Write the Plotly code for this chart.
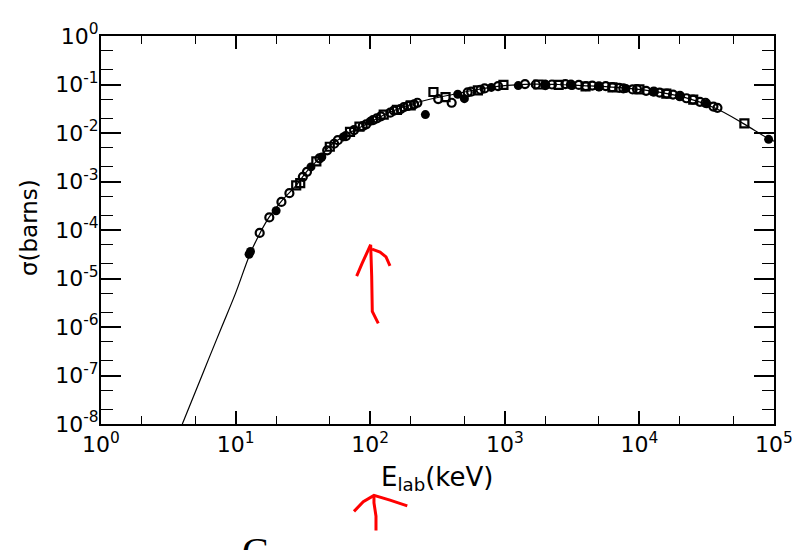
import plotly.graph_objects as go

# ---- data ----
curve_E = [4.02, 5.01, 6.31, 7.94, 10.0, 12.8, 15.2, 17.8, 22.0, 28.4, 33.7, 39.8, 50.1,
           70.8, 100, 132, 234, 417, 631, 1000, 1585, 2512, 3802, 6761, 12020, 21380,
           37150, 58880, 89130, 100000]
curve_sigma = [1.0e-8, 4.5e-8, 2.2e-7, 1.05e-6, 5.0e-6, 3.2e-5, 8.7e-5, 1.86e-4, 4.0e-4,
               8.5e-4, 1.6e-3, 2.6e-3, 5.4e-3, 1.02e-2, 1.66e-2, 2.5e-2, 4.4e-2, 6.3e-2,
               7.9e-2, 9.5e-2, 1.02e-1, 1.0e-1, 9.5e-2, 8.7e-2, 7.4e-2, 5.5e-2, 3.2e-2,
               1.58e-2, 7.9e-3, 6.8e-3]

circ_E = [15.1, 17.8, 21.9, 25.1, 33.9, 47.9, 57.5, 75.9, 93.3, 112, 141, 178, 224, 403,
          562, 708, 891, 1413, 2239, 2818, 3548, 4467, 5623, 7079, 8913, 11220, 14130,
          17780, 22390, 28180, 35480,
          31.6, 42.0, 54.0, 66.0, 88.0, 105, 120, 150, 168, 190, 212, 320, 530, 660,
          1700, 2000, 3100, 4000, 5000, 6300, 7600, 9600, 12800, 16000, 20000, 25000,
          31000, 38000]
circ_sigma = [8.7e-5, 1.82e-4, 3.8e-4, 5.75e-4, 1.58e-3, 4.4e-3, 7.1e-3, 1.15e-2, 1.51e-2,
              2.0e-2, 2.63e-2, 3.4e-2, 4.2e-2, 4.2e-2, 7.1e-2, 8.3e-2, 9.3e-2, 0.102, 0.100,
              0.102, 0.098, 0.095, 0.093, 0.085, 0.079, 0.074, 0.068, 0.062, 0.052, 0.044,
              0.035,
              1.25e-3, 3.0e-3, 6.0e-3, 8.6e-3, 1.38e-2, 1.85e-2, 2.2e-2, 2.9e-2, 3.1e-2,
              3.6e-2, 3.9e-2, 5.0e-2, 6.9e-2, 7.8e-2, 0.100, 0.097, 0.099, 0.093, 0.092,
              0.088, 0.083, 0.080, 0.071, 0.065, 0.058, 0.049, 0.042, 0.033]

sq_E = [28.2, 30.2, 39.8, 50.1, 70.8, 83.2, 126, 158, 200, 295, 363, 631, 977, 1778, 2512,
        3981, 6310, 10000, 15850, 25120, 60260]
sq_sigma = [8.3e-4, 9.3e-4, 2.6e-3, 5.2e-3, 1.05e-2, 1.35e-2, 2.4e-2, 3.0e-2, 3.7e-2,
            7.0e-2, 5.5e-2, 7.6e-2, 9.8e-2, 0.100, 0.098, 0.091, 0.087, 0.079, 0.065,
            0.049, 0.0158]

dot_E = [12.6, 12.9, 20.0, 36.3, 43.7, 63.1, 100, 257, 447, 501, 794, 1259, 1995, 3162,
         5012, 7943, 12590, 19950, 31620, 91200]
dot_sigma = [3.16e-5, 3.6e-5, 2.5e-4, 2.0e-3, 3.2e-3, 8.3e-3, 1.74e-2, 2.4e-2, 6.3e-2,
             5.1e-2, 8.7e-2, 0.095, 0.102, 0.095, 0.089, 0.083, 0.071, 0.056, 0.040, 0.0074]

x_tick_vals = [1, 10, 100, 1000, 10000, 100000]
x_tick_text = ["10<sup>0</sup>", "10<sup>1</sup>", "10<sup>2</sup>", "10<sup>3</sup>",
               "10<sup>4</sup>", "10<sup>5</sup>"]
y_tick_vals = [1e-8, 1e-7, 1e-6, 1e-5, 1e-4, 1e-3, 1e-2, 1e-1, 1]
y_tick_text = ["10<sup>-8</sup>", "10<sup>-7</sup>", "10<sup>-6</sup>", "10<sup>-5</sup>",
               "10<sup>-4</sup>", "10<sup>-3</sup>", "10<sup>-2</sup>", "10<sup>-1</sup>",
               "10<sup>0</sup>"]

FONT = "DejaVu Sans, Arial, sans-serif"

fig = go.Figure()
fig.add_trace(go.Scatter(x=curve_E, y=curve_sigma, mode="lines",
                         line=dict(color="black", width=1.2, shape="spline"),
                         showlegend=False))
fig.add_trace(go.Scatter(x=circ_E, y=circ_sigma, mode="markers",
                         marker=dict(symbol="circle-open", size=8, color="black",
                                     line=dict(width=2.2, color="black")),
                         showlegend=False))
fig.add_trace(go.Scatter(x=sq_E, y=sq_sigma, mode="markers",
                         marker=dict(symbol="square-open", size=8, color="black",
                                     line=dict(width=2.2, color="black")),
                         showlegend=False))
fig.add_trace(go.Scatter(x=dot_E, y=dot_sigma, mode="markers",
                         marker=dict(symbol="circle", size=9, color="black"),
                         showlegend=False))

# page offset of the figure inside the html page (body margin)
OX, OY = 8, 8
W, H = 808, 550
L, T = 101 - OX, 20 - OY
R = W - (774 - OX)
B = H - (424 - OY)
pw, ph = W - L - R, H - T - B


def P(px, py):
    """page pixel -> paper coords"""
    fx, fy = px - OX, py - OY
    return (fx - L) / pw, 1 - (fy - T) / ph


def path(pts):
    s = ""
    for i, (px, py) in enumerate(pts):
        x, y = P(px, py)
        s += ("M" if i == 0 else " L") + f" {x:.4f} {y:.4f}"
    return s


red = dict(color="red", width=3)
shapes = []
# arrow in plot
shapes.append(dict(type="path", xref="paper", yref="paper", line=red,
                   path=path([(378.3, 319.3), (372.3, 306.7), (371.7, 270), (370.7, 237.3)])))
shapes.append(dict(type="path", xref="paper", yref="paper", line=red,
                   path=path([(356.7, 270), (362, 257), (370.7, 237.3)])))
shapes.append(dict(type="path", xref="paper", yref="paper", line=red,
                   path=path([(372, 242), (380, 245), (386, 250), (390, 259.3)])))
# arrow under x title
shapes.append(dict(type="path", xref="paper", yref="paper", line=red,
                   path=path([(376, 535), (376, 520), (374, 506), (374, 498.3)])))
shapes.append(dict(type="path", xref="paper", yref="paper", line=red,
                   path=path([(354, 515), (363.3, 505), (374, 498.3), (390, 503.3),
                              (407.3, 509.3)])))

ax_common = dict(type="log", showgrid=False, zeroline=False, showline=True,
                 linecolor="black", linewidth=2, mirror="allticks", ticks="inside",
                 tickcolor="black", tickwidth=1.5, ticklabeloverflow="allow",
                 tickfont=dict(family=FONT, size=22, color="black"))

fig.update_layout(
    width=W, height=H, autosize=False,
    margin=dict(l=L, r=R, t=T, b=B),
    paper_bgcolor="white", plot_bgcolor="white",
    xaxis=dict(range=[0, 5], tickvals=x_tick_vals, ticktext=x_tick_text, ticklen=13,
               minor=dict(ticks="inside", ticklen=8, tickcolor="black", tickwidth=1,
                          showgrid=False),
               **ax_common),
    yaxis=dict(range=[-8, 0], tickvals=y_tick_vals, ticktext=y_tick_text, ticklen=20,
               ticklabelstandoff=-4,
               minor=dict(ticks="inside", ticklen=12, tickcolor="black", tickwidth=1,
                          showgrid=False),
               **ax_common),
    shapes=shapes,
    annotations=[
        dict(text="σ(barns)", textangle=-90, xref="paper", yref="paper",
             x=P(29, 220)[0], y=P(29, 220)[1], xanchor="center", yanchor="middle",
             showarrow=False, font=dict(family=FONT, size=23, color="black")),
        dict(text="E<sub>lab</sub>(keV)", xref="paper", yref="paper",
             x=P(437, 481)[0], y=P(437, 481)[1], xanchor="center", yanchor="middle",
             showarrow=False, font=dict(family=FONT, size=26, color="black")),
        dict(text="C", xref="paper", yref="paper", x=P(255, 531)[0], y=P(255, 531)[1],
             xanchor="center", yanchor="top", showarrow=False,
             font=dict(family="Liberation Serif, serif", size=40, color="black")),
    ],
)

fig.write_html("out.html")
